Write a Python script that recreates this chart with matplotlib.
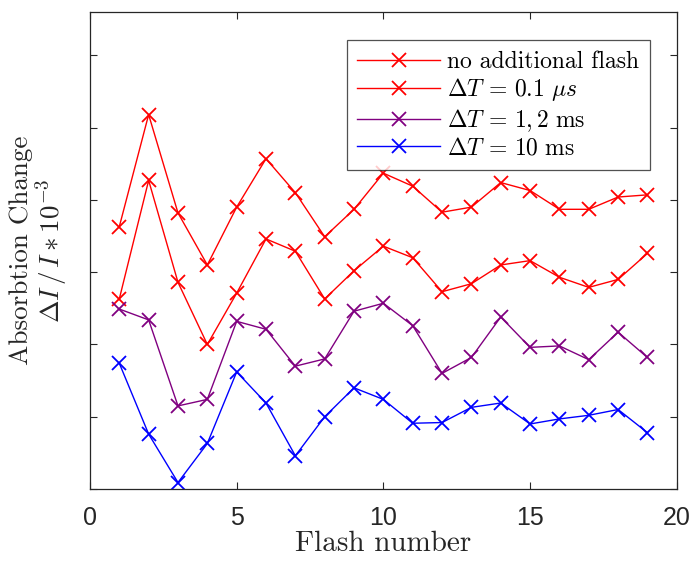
import matplotlib
matplotlib.use("Agg")
import matplotlib.pyplot as plt

plt.rcParams['font.family'] = 'serif'
plt.rcParams['font.serif'] = ['cmr10']
plt.rcParams['mathtext.fontset'] = 'cm'
plt.rcParams['axes.formatter.use_mathtext'] = True

flash = list(range(1, 20))

no_flash = [3.63, 5.18, 3.82, 3.10, 3.90, 4.57, 4.10, 3.49, 3.87, 4.37,
            4.19, 3.83, 3.90, 4.24, 4.13, 3.87, 3.87, 4.04, 4.07]
dt_01us = [2.63, 4.27, 2.86, 2.00, 2.71, 3.46, 3.29, 2.63, 3.02, 3.36,
           3.20, 2.73, 2.84, 3.10, 3.16, 2.93, 2.79, 2.90, 3.26]
dt_12ms = [2.49, 2.34, 1.15, 1.24, 2.32, 2.21, 1.70, 1.80, 2.46, 2.57,
           2.26, 1.60, 1.82, 2.38, 1.96, 1.98, 1.79, 2.17, 1.82]
dt_10ms = [1.74, 0.76, 0.09, 0.63, 1.62, 1.19, 0.46, 1.00, 1.40, 1.24,
           0.91, 0.92, 1.13, 1.19, 0.90, 0.97, 1.02, 1.10, 0.78]

labels = ['no additional flash', r'$\Delta T \,=\, 0.1\ \mu s$',
          r'$\Delta T \,=\, 1,2\ \mathrm{ms}$', r'$\Delta T \,=\, 10\ \mathrm{ms}$']
colors = ['#ff0000', '#ff0000', '#800080', '#0000ff']
xticks = [0, 5, 10, 15, 20]

fig = plt.figure(figsize=(6.92, 5.63), dpi=100)
ax = fig.add_axes([0.130, 0.1314, 0.848, 0.8473])

for ys, lab, c in zip([no_flash, dt_01us, dt_12ms, dt_10ms], labels, colors):
    ax.plot(flash, ys, color=c, lw=1.0, marker='x', markersize=10,
            markeredgewidth=1.3, label=lab)

ax.set_xlim(0, 20)
ax.set_ylim(0, 6.6)
ax.set_xticks(xticks)
ax.set_xticklabels([str(t) for t in xticks], family='Liberation Sans')
ax.set_yticks([0, 1, 2, 3, 4, 5, 6])
ax.set_yticklabels([])
ax.tick_params(direction='in', top=True, right=True, length=5, width=0.8,
               colors='#262626', labelsize=18, labelcolor='#262626')
ax.tick_params(axis='x', pad=12)
for s in ax.spines.values():
    s.set_color('#262626')
    s.set_linewidth(0.9)

ax.set_xlabel('Flash number', fontsize=21, color='#262626', labelpad=1)
ax.set_ylabel('Absorbtion Change\n' + r'$\Delta I\,/\,I * 10^{-3}$',
              fontsize=19.5, color='#262626', labelpad=11, linespacing=1.0)

leg = ax.legend(loc='upper right', bbox_to_anchor=(0.954, 0.941), fontsize=17,
                frameon=True, fancybox=False, edgecolor='#262626',
                handlelength=3.5, borderpad=0.45, labelspacing=0.15,
                handletextpad=0.3, borderaxespad=0.0)
leg.get_frame().set_linewidth(0.9)

fig.savefig('out.png', dpi=100)
